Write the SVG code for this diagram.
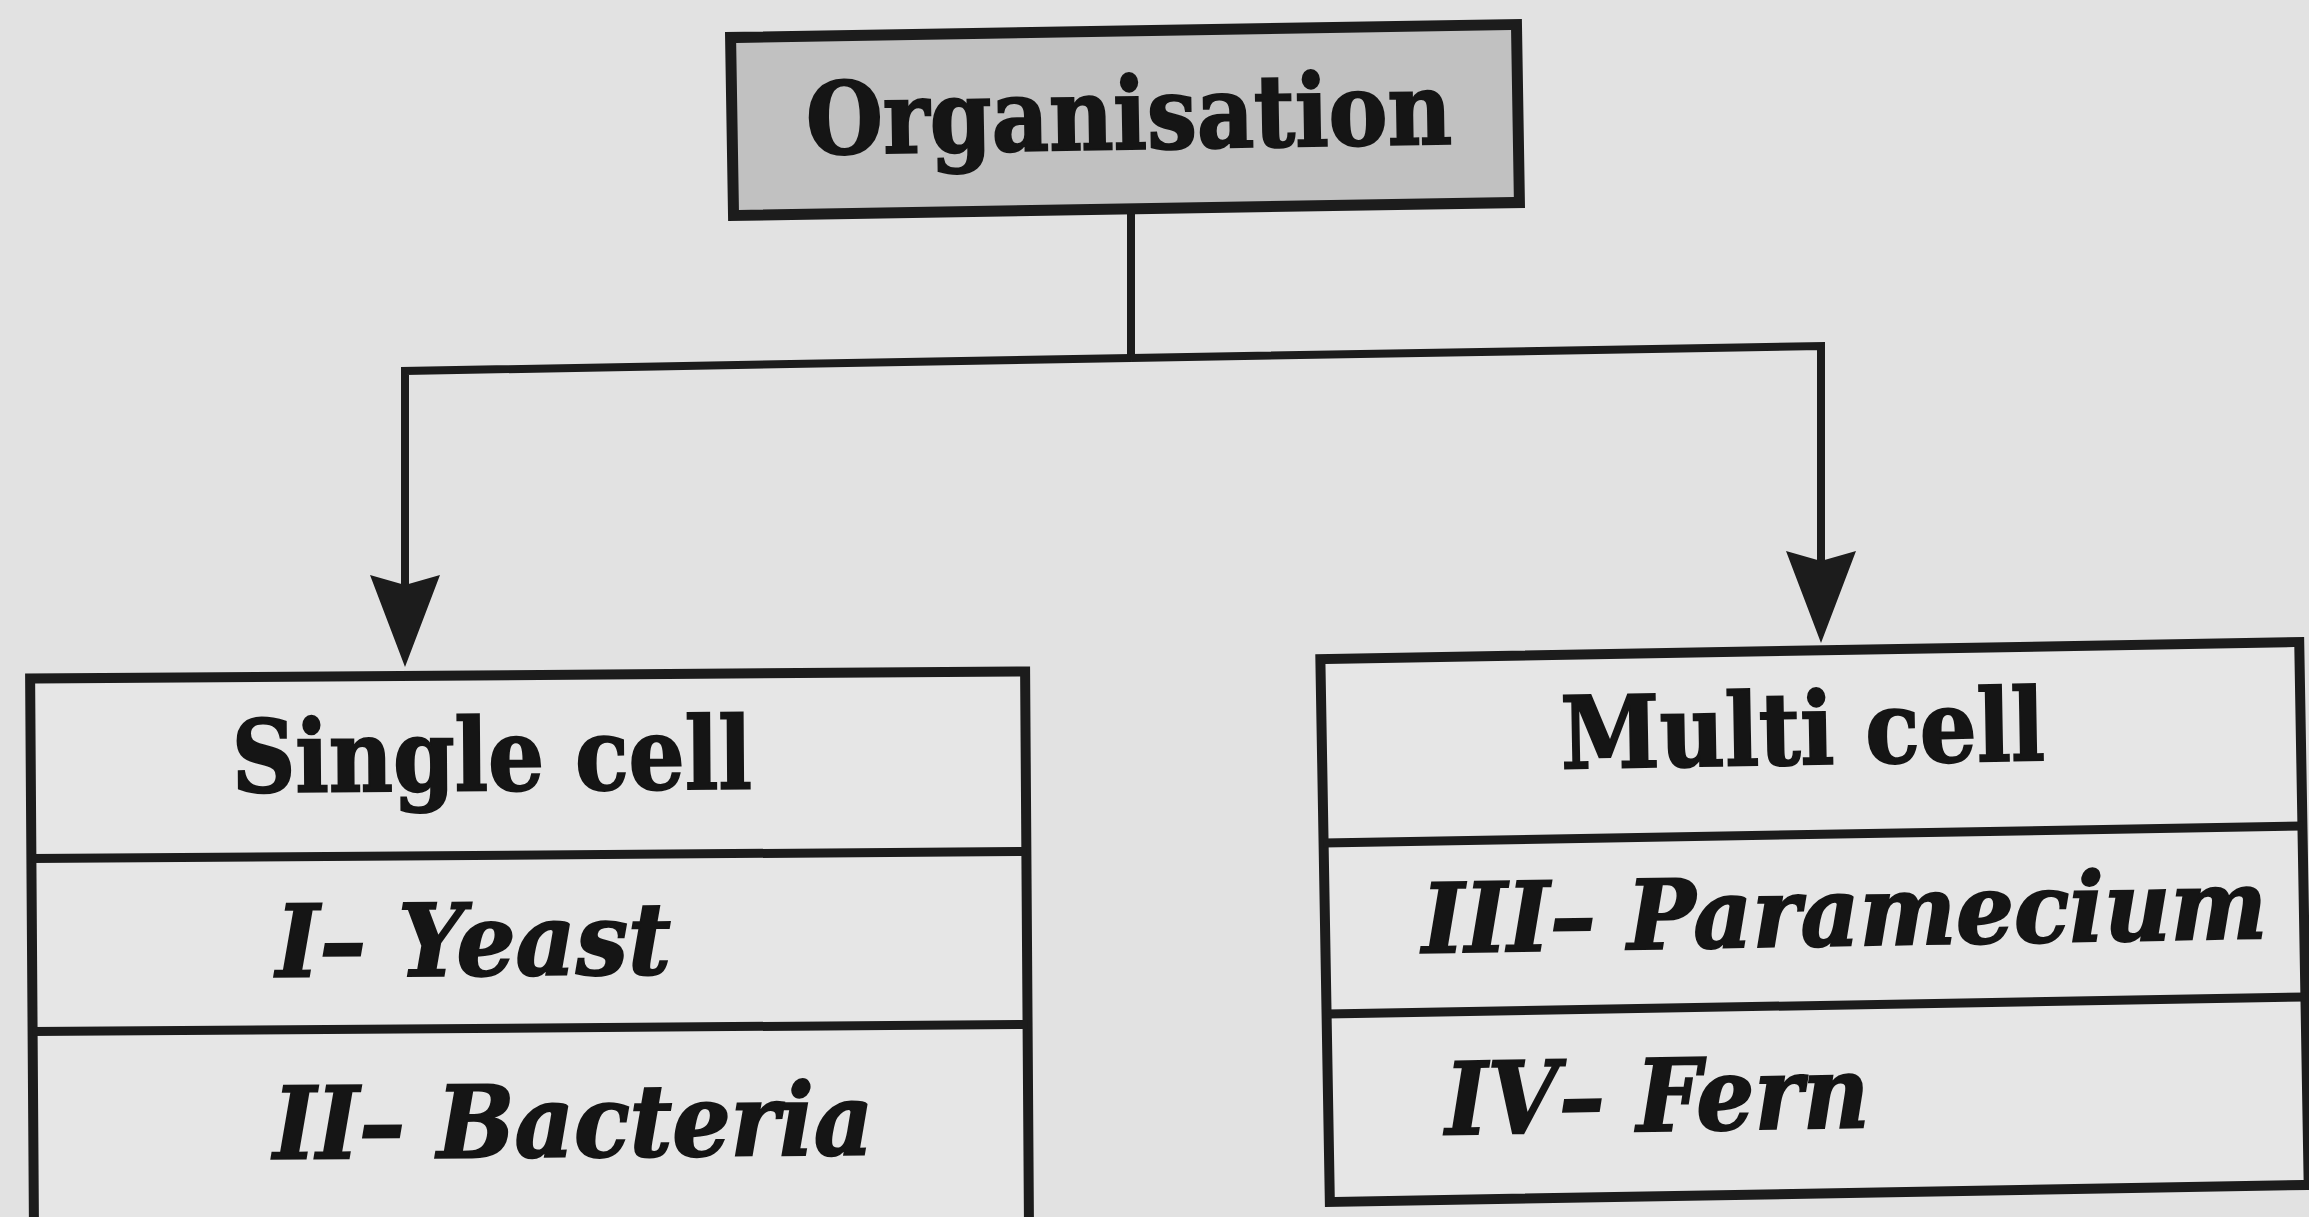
<svg xmlns="http://www.w3.org/2000/svg" width="2309" height="1217" viewBox="0 0 2309 1217">
<style>
.bg{fill:#e2e2e2}
.box{fill:#e6e6e6;stroke:#1c1c1c;stroke-width:10}
.top{fill:#c1c1c1;stroke:#1c1c1c;stroke-width:11}
.div{stroke:#1c1c1c;stroke-width:9;fill:none}
.conn{stroke:#1c1c1c;stroke-width:8;fill:none;stroke-linejoin:miter}
.t{font-family:"DejaVu Serif","Liberation Serif",serif;font-size:100px;font-weight:bold;fill:#151515;stroke:#151515;stroke-width:2}
.i{font-style:italic}
</style>
<defs>
<marker id="ah" markerUnits="userSpaceOnUse" viewBox="0 0 92 70" markerWidth="92" markerHeight="70" refX="10" refY="35" orient="auto">
<path d="M0,0 L92,35 L0,70 L10,35 Z" fill="#1c1c1c"/>
</marker>
</defs>
<rect class="bg" x="0" y="0" width="2309" height="1217"/>
<g id="connectors">
<path class="conn" d="M1131,205 L1131,358"/>
<path class="conn" d="M1131,358 L405,371 L405,585" marker-end="url(#ah)"/>
<path class="conn" d="M1131,358 L1821,346 L1821,561" marker-end="url(#ah)"/>
</g>
<g id="organisation" transform="rotate(-0.95 1125 120)">
<rect class="top" x="732" y="31" width="786" height="178"/>
<text class="t" x="806" y="149" textLength="646" lengthAdjust="spacingAndGlyphs">Organisation</text>
</g>
<g id="single-cell" transform="rotate(-0.4 530 945)">
<rect class="box" x="32" y="675" width="995" height="570"/>
<line class="div" x1="32" y1="855" x2="1027" y2="855"/>
<line class="div" x1="32" y1="1028" x2="1027" y2="1028"/>
<text class="t" x="233" y="790" textLength="520" lengthAdjust="spacingAndGlyphs">Single cell</text>
<text class="t i" x="276" y="975" textLength="395" lengthAdjust="spacingAndGlyphs">I– Yeast</text>
<text class="t i" x="272" y="1157" textLength="600" lengthAdjust="spacingAndGlyphs">II– Bacteria</text>
</g>
<g id="multi-cell" transform="rotate(-1 1814.5 920)">
<rect class="box" x="1325" y="650.5" width="979" height="543"/>
<line class="div" x1="1325" y1="834.5" x2="2304" y2="834.5"/>
<line class="div" x1="1325" y1="1005.5" x2="2304" y2="1005.5"/>
<text class="t" x="1564" y="764" textLength="484" lengthAdjust="spacingAndGlyphs">Multi cell</text>
<text class="t i" x="1422" y="946" font-size="96" style="font-size:96px" textLength="845" lengthAdjust="spacingAndGlyphs">III– Paramecium</text>
<text class="t i" x="1442" y="1128" textLength="424" lengthAdjust="spacingAndGlyphs">IV– Fern</text>
</g>
</svg>
